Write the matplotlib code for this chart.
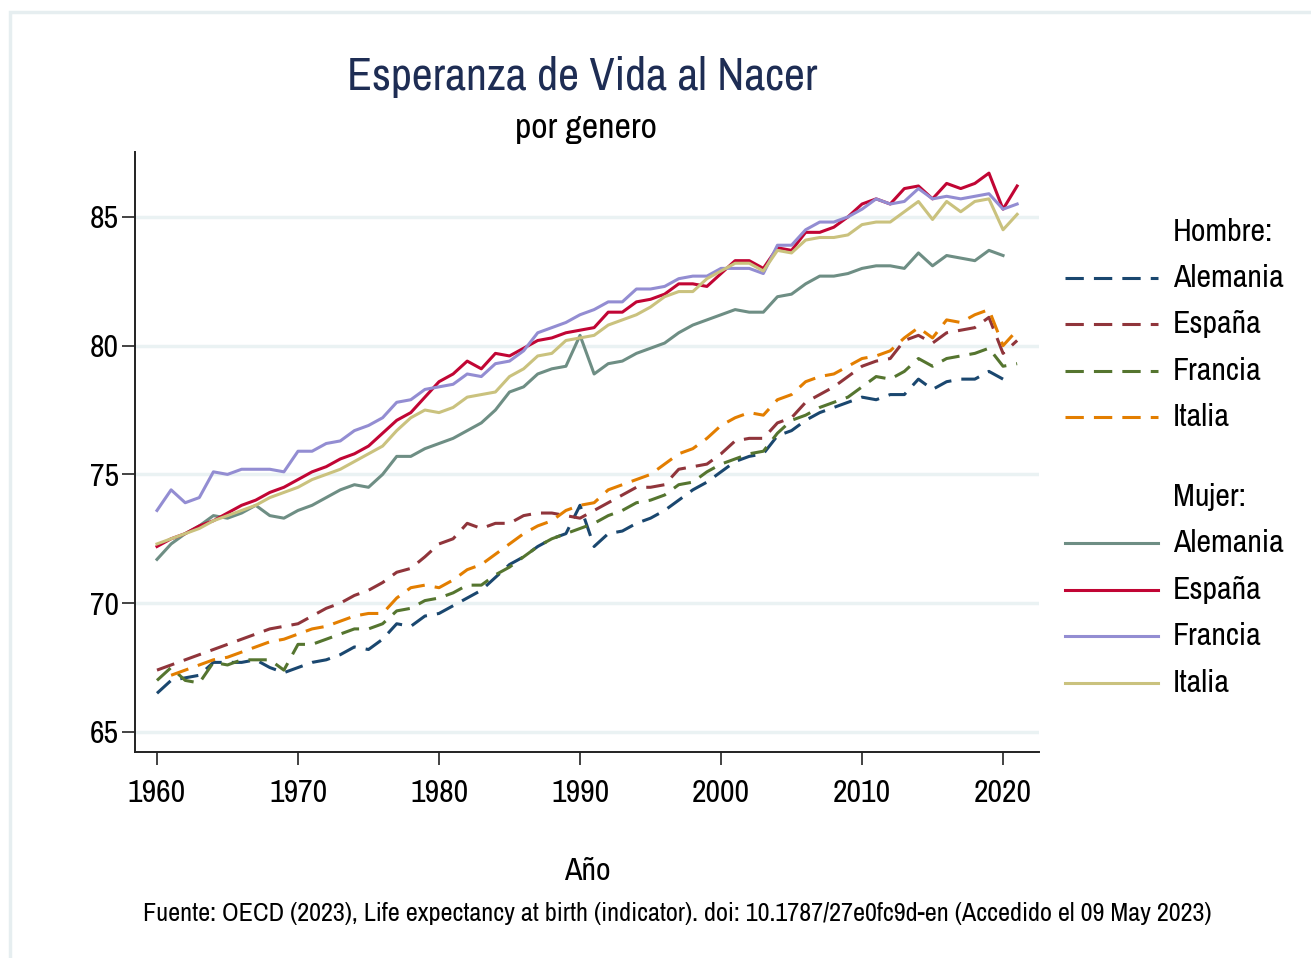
import numpy as np
import matplotlib
matplotlib.use("Agg")
import matplotlib.pyplot as plt
from matplotlib.lines import Line2D
from matplotlib.patches import Rectangle

plt.rcParams["font.family"] = ["Archivo Narrow", "Liberation Sans", "DejaVu Sans"]

years = np.arange(1960, 2022)
years_de = np.arange(1960, 2021)
years_it_m = np.arange(1961, 2022)

# Hombre
de_m = [66.5, 67.0, 67.1, 67.2, 67.7, 67.7, 67.7, 67.8, 67.5, 67.3,
        67.5, 67.7, 67.8, 68.0, 68.3, 68.2, 68.6, 69.2, 69.1, 69.5,
        69.6, 69.9, 70.2, 70.5, 71.0, 71.5, 71.8, 72.2, 72.5, 72.7,
        73.8, 72.2, 72.7, 72.8, 73.1, 73.3, 73.6, 74.0, 74.4, 74.7,
        75.1, 75.5, 75.7, 75.8, 76.5, 76.7, 77.1, 77.4, 77.6, 77.8,
        78.0, 77.9, 78.1, 78.1, 78.7, 78.3, 78.6, 78.7, 78.7, 79.0,
        78.7]
es_m = [67.4, 67.6, 67.8, 68.0, 68.2, 68.4, 68.6, 68.8, 69.0, 69.1,
        69.2, 69.5, 69.8, 70.0, 70.3, 70.5, 70.8, 71.2, 71.35, 71.8,
        72.3, 72.5, 73.1, 72.9, 73.1, 73.1, 73.4, 73.5, 73.5, 73.4,
        73.3, 73.6, 73.9, 74.2, 74.5, 74.5, 74.6, 75.2, 75.3, 75.4,
        75.8, 76.3, 76.4, 76.4, 77.0, 77.2, 77.8, 78.1, 78.4, 78.8,
        79.2, 79.4, 79.5, 80.2, 80.4, 80.1, 80.5, 80.6, 80.7, 81.1,
        79.7, 80.2]
fr_m = [67.0, 67.5, 67.0, 66.9, 67.7, 67.6, 67.8, 67.8, 67.8, 67.4,
        68.4, 68.4, 68.6, 68.8, 69.0, 69.0, 69.2, 69.7, 69.8, 70.1,
        70.2, 70.4, 70.7, 70.7, 71.1, 71.4, 71.8, 72.2, 72.5, 72.7,
        72.9, 73.1, 73.4, 73.6, 73.9, 74.0, 74.2, 74.6, 74.7, 75.1,
        75.4, 75.6, 75.8, 75.9, 76.6, 77.1, 77.3, 77.6, 77.8, 78.0,
        78.4, 78.8, 78.7, 79.0, 79.5, 79.2, 79.5, 79.6, 79.7, 79.9,
        79.2, 79.3]
it_m = [67.2, 67.4, 67.6, 67.8, 67.9, 68.1, 68.3, 68.5, 68.6,
        68.8, 69.0, 69.1, 69.3, 69.5, 69.6, 69.6, 70.2, 70.6, 70.7,
        70.6, 70.9, 71.3, 71.5, 71.9, 72.3, 72.7, 73.0, 73.2, 73.6,
        73.8, 73.9, 74.4, 74.6, 74.8, 75.0, 75.4, 75.8, 76.0, 76.4,
        76.9, 77.2, 77.4, 77.3, 77.9, 78.1, 78.6, 78.8, 78.9, 79.2,
        79.5, 79.6, 79.8, 80.3, 80.7, 80.3, 81.0, 80.9, 81.2, 81.4,
        80.0, 80.6]

# Mujer
de_f = [71.7, 72.3, 72.7, 73.0, 73.4, 73.3, 73.5, 73.8, 73.4, 73.3,
        73.6, 73.8, 74.1, 74.4, 74.6, 74.5, 75.0, 75.7, 75.7, 76.0,
        76.2, 76.4, 76.7, 77.0, 77.5, 78.2, 78.4, 78.9, 79.1, 79.2,
        80.4, 78.9, 79.3, 79.4, 79.7, 79.9, 80.1, 80.5, 80.8, 81.0,
        81.2, 81.4, 81.3, 81.3, 81.9, 82.0, 82.4, 82.7, 82.7, 82.8,
        83.0, 83.1, 83.1, 83.0, 83.6, 83.1, 83.5, 83.4, 83.3, 83.7,
        83.5]
es_f = [72.2, 72.5, 72.7, 73.0, 73.2, 73.5, 73.8, 74.0, 74.3, 74.5,
        74.8, 75.1, 75.3, 75.6, 75.8, 76.1, 76.6, 77.1, 77.4, 78.0,
        78.6, 78.9, 79.4, 79.1, 79.7, 79.6, 79.9, 80.2, 80.3, 80.5,
        80.6, 80.7, 81.3, 81.3, 81.7, 81.8, 82.0, 82.4, 82.4, 82.3,
        82.8, 83.3, 83.3, 83.0, 83.8, 83.7, 84.4, 84.4, 84.6, 85.0,
        85.5, 85.7, 85.5, 86.1, 86.2, 85.7, 86.3, 86.1, 86.3, 86.7,
        85.3, 86.2]
fr_f = [73.6, 74.4, 73.9, 74.1, 75.1, 75.0, 75.2, 75.2, 75.2, 75.1,
        75.9, 75.9, 76.2, 76.3, 76.7, 76.9, 77.2, 77.8, 77.9, 78.3,
        78.4, 78.5, 78.9, 78.8, 79.3, 79.4, 79.8, 80.5, 80.7, 80.9,
        81.2, 81.4, 81.7, 81.7, 82.2, 82.2, 82.3, 82.6, 82.7, 82.7,
        83.0, 83.0, 83.0, 82.8, 83.9, 83.9, 84.5, 84.8, 84.8, 85.0,
        85.3, 85.7, 85.5, 85.6, 86.1, 85.7, 85.8, 85.7, 85.8, 85.9,
        85.3, 85.5]
it_f = [72.3, 72.5, 72.7, 72.9, 73.2, 73.4, 73.6, 73.8, 74.1, 74.3,
        74.5, 74.8, 75.0, 75.2, 75.5, 75.8, 76.1, 76.7, 77.2, 77.5,
        77.4, 77.6, 78.0, 78.1, 78.2, 78.8, 79.1, 79.6, 79.7, 80.2,
        80.3, 80.4, 80.8, 81.0, 81.2, 81.5, 81.9, 82.1, 82.1, 82.6,
        82.9, 83.2, 83.2, 82.9, 83.7, 83.6, 84.1, 84.2, 84.2, 84.3,
        84.7, 84.8, 84.8, 85.2, 85.6, 84.9, 85.6, 85.2, 85.6, 85.7,
        84.5, 85.1]

countries = ["Alemania", "España", "Francia", "Italia"]
men = [(years_de, de_m), (years, es_m), (years, fr_m), (years_it_m, it_m)]
women = [(years_de, de_f), (years, es_f), (years, fr_f), (years, it_f)]
men_colors = ["#1a476f", "#90353b", "#55752f", "#e37e00"]
women_colors = ["#6e8e84", "#c10534", "#938dd2", "#cac27e"]
dash = (0, (6, 3.3))

W, H = 1311, 958
fig = plt.figure(figsize=(W / 100, H / 100), dpi=100)
fig.patch.set_facecolor("white")
fig.add_artist(Rectangle((10 / W, -0.02), 1.0, 1 - 12 / H + 0.02, transform=fig.transFigure,
                         fill=False, edgecolor="#e6eef0", lw=2.5))

ax = fig.add_axes([135 / W, 1 - 752 / H, (1039 - 135) / W, (752 - 152) / H])
ax.set_facecolor("white")

for (x, y), c in zip(men, men_colors):
    ax.plot(x, y, color=c, lw=2.2, linestyle=dash)
for (x, y), c in zip(women, women_colors):
    ax.plot(x, y, color=c, lw=2.2)

ax.set_xlim(1958.44, 2022.55)
ax.set_ylim(64.22, 87.52)
ax.set_xticks([1960, 1970, 1980, 1990, 2000, 2010, 2020])
ax.set_yticks([65, 70, 75, 80, 85])
ax.yaxis.grid(True, color="#eaf2f3", lw=2.5)
ax.set_axisbelow(True)
for s in ["top", "right"]:
    ax.spines[s].set_visible(False)
for s in ["left", "bottom"]:
    ax.spines[s].set_linewidth(1.4)
    ax.spines[s].set_color("#222222")
ax.tick_params(direction="out", length=9.4, width=1.2, labelsize=23, colors="#222222",
               labelcolor="black")
ax.tick_params(axis="x", pad=10)
ax.tick_params(axis="y", pad=2)

fig.text(582 / W, 1 - 90 / H, "Esperanza de Vida al Nacer", fontsize=33, color="#1e2d54",
         ha="center", va="baseline")
fig.text(586 / W, 1 - 138 / H, "por genero", fontsize=25.8, color="black",
         ha="center", va="baseline")
fig.text(587 / W, 1 - 880 / H, "Año", fontsize=23, ha="center", va="baseline")
fig.text(677 / W, 1 - 921 / H,
         "Fuente: OECD (2023), Life expectancy at birth (indicator). doi: 10.1787/27e0fc9d-en (Accedido el 09 May 2023)",
         fontsize=18.9, ha="center", va="baseline")

# legend
lx0, lx1, tx = 1065 / W, 1158 / W, 1173 / W
rows_y = [232, 278, 324, 371, 417, 497, 543, 590, 636, 683]
labels = ["Hombre:"] + countries + ["Mujer:"] + countries
styles = [None] + [(c, dash) for c in men_colors] + [None] + [(c, "-") for c in women_colors]
for yy, lab, st in zip(rows_y, labels, styles):
    yf = 1 - yy / H
    fig.text(tx, yf, lab, fontsize=23, ha="left", va="center")
    if st is not None:
        fig.add_artist(Line2D([lx0, lx1], [yf, yf], transform=fig.transFigure,
                              color=st[0], lw=2.2, linestyle=st[1]))

fig.savefig("out.png", dpi=100)
